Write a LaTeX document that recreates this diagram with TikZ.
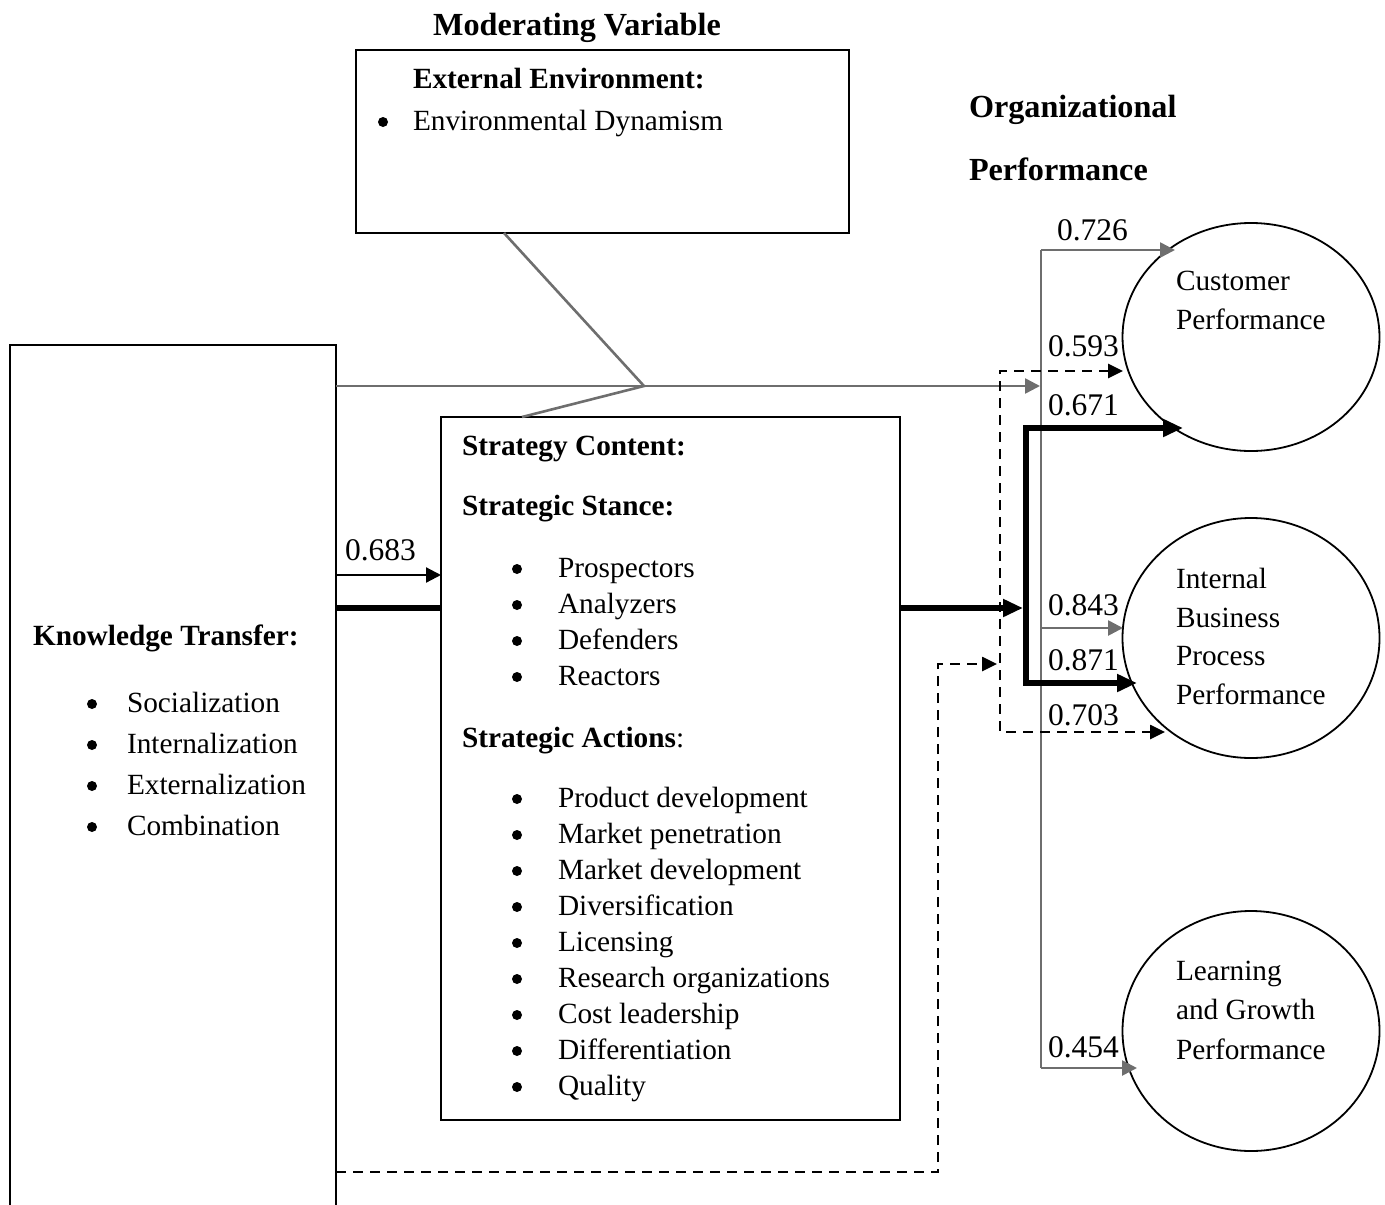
\documentclass[tikz,border=0pt]{standalone}
\usepackage{fontspec}
\setmainfont{Liberation Serif}
\usetikzlibrary{arrows.meta,shapes.geometric,calc}
\definecolor{lgray}{HTML}{6E6E6E}
\begin{document}
\begin{tikzpicture}[x=1pt,y=-1pt,
  every node/.style={inner sep=0pt,outer sep=0pt},
  tb/.style={font=\fontsize{29.3}{35}\selectfont,anchor=base west},
  hb/.style={font=\fontsize{32.2}{38}\selectfont\bfseries,anchor=base west},
  num/.style={font=\fontsize{31.5}{37}\selectfont,anchor=base west},
  bul/.style={circle,fill=black,minimum size=10pt},
  boxn/.style={draw,line width=1.8pt,rectangle,anchor=north west},
  ell/.style={draw,line width=1.8pt,ellipse,minimum width=257pt},
  grayl/.style={draw=lgray,line width=2.6pt},
  gtip/.style={-{Triangle[length=15pt,width=15pt]}},
  thk/.style={line width=6pt,draw=black},
  ttip/.style={-{Triangle[length=20pt,width=17pt]}},
  dsh/.style={line width=2.6pt,dash pattern=on 10pt off 7pt},
  dtip/.style={-{Triangle[length=15pt,width=14pt]}},
  thn/.style={line width=2.2pt,draw=black}
]
\useasboundingbox (0,0) rectangle (1385,1205);

% boxes
\node[boxn,minimum width=493pt,minimum height=183pt] (mod) at (356,50) {};
\node[boxn,minimum width=459pt,minimum height=703pt] (strat) at (441,417) {};
\node[rectangle,anchor=north west,minimum width=326pt,minimum height=860pt] (kt) at (10,345) {};
\draw[line width=1.8pt] (kt.south west) -- (kt.north west) -- (kt.north east) -- (kt.south east);

% ellipses
\node[ell,minimum height=228pt] (e1) at (1251,337) {};
\node[ell,minimum height=240pt] (e2) at (1251,638) {};
\node[ell,minimum height=240pt] (e3) at (1251,1031) {};

% moderating texts
\node[hb,anchor=base] (modt) at (577,35) {Moderating Variable};
\node[tb] (ext) at (413,88) {\bfseries External Environment:};
\node[bul] (b0) at (383,122) {};
\node[tb] (envd) at (413,130) {Environmental Dynamism};

% organizational performance
\node[hb] (op1) at (969,117) {Organizational};
\node[hb] (op2) at (969,180) {Performance};

% strategy content
\node[tb] (sc) at (462,455) {\bfseries Strategy Content:};
\node[tb] (ss) at (462,515) {\bfseries Strategic Stance:};
\foreach \t [count=\i from 0] in {Prospectors,Analyzers,Defenders,Reactors}{
  \node[bul] (sb\i) at (517,569+36*\i) {};
  \node[tb] (st\i) at (558,577+36*\i) {\t};
}
\node[tb] (sa) at (462,747) {\textbf{Strategic Actions}:};
\foreach \t [count=\i from 0] in {Product development,Market penetration,Market development,Diversification,Licensing,Research organizations,Cost leadership,Differentiation,Quality}{
  \node[bul] (ab\i) at (517,799+36*\i) {};
  \node[tb] (at\i) at (558,807+36*\i) {\t};
}

% knowledge transfer
\node[tb] (ktt) at (33,645) {\bfseries Knowledge Transfer:};
\foreach \t [count=\i from 0] in {Socialization,Internalization,Externalization,Combination}{
  \node[bul] (kb\i) at (92,704+41*\i) {};
  \node[tb] (kx\i) at (127,712+41*\i) {\t};
}

% ellipse texts
\node[tb] (c1) at (1176,290) {Customer};
\node[tb] (c2) at (1176,329) {Performance};
\node[tb] (i1) at (1176,588) {Internal};
\node[tb] (i2) at (1176,627) {Business};
\node[tb] (i3) at (1176,665) {Process};
\node[tb] (i4) at (1176,704) {Performance};
\node[tb] (l1) at (1176,980) {Learning};
\node[tb] (l2) at (1176,1019) {and Growth};
\node[tb] (l3) at (1176,1059) {Performance};

% coefficient labels
\node[num] (n683) at (345,560) {0.683};
\node[num] (n726) at (1057,240) {0.726};
\node[num] (n593) at (1048,356) {0.593};
\node[num] (n671) at (1048,415) {0.671};
\node[num] (n843) at (1048,615) {0.843};
\node[num] (n871) at (1048,670) {0.871};
\node[num] (n703) at (1048,725) {0.703};
\node[num] (n454) at (1048,1057) {0.454};

% junction coordinates
\coordinate (jm) at (644,386);
\coordinate (gtop) at (1041,250);
\coordinate (gmid) at (1041,628);
\coordinate (gbot) at (1041,1068);
\coordinate (gin) at (1040,386);
\coordinate (tip726) at (1175,250);
\coordinate (tip843) at (1123,628);
\coordinate (tip454) at (1137,1068);
\coordinate (th1) at (1026,428);
\coordinate (th2) at (1026,683);
\coordinate (tin) at (1023,608);
\coordinate (tip671) at (1183,428);
\coordinate (tip871) at (1137,683);
\coordinate (dq1) at (938,1172);
\coordinate (dq2) at (938,664);
\coordinate (din) at (997,664);
\coordinate (dv1) at (1000,371);
\coordinate (dv2) at (1000,732);
\coordinate (tip593) at (1123,371);
\coordinate (tip703) at (1165,732);
\coordinate (h575) at (0,575);
\coordinate (h608) at (0,608);

% gray connectors
\draw[grayl] ($(mod.south west)+(148,0)$) -- (jm) -- ($(strat.north west)+(81,0)$);
\draw[grayl,gtip] (kt.north east |- jm) -- (gin);
\draw[grayl] (gtop) -- (gbot);
\draw[grayl,gtip] (gtop) -- (tip726);
\draw[grayl,gtip] (gmid) -- (tip843);
\draw[grayl,gtip] (gbot) -- (tip454);

% thin black
\draw[thn,-{Triangle[length=15pt,width=15pt]}] (kt.north east |- h575) -- (strat.north west |- h575);

% thick black
\draw[thk] (kt.north east |- h608) -- (strat.north west |- h608);
\draw[thk,ttip] (strat.north east |- h608) -- (tin);
\draw[thk,{Triangle[length=20pt,width=17pt]}-{Triangle[length=20pt,width=17pt]},line join=miter] (tip671) -- (th1) -- (th2) -- (tip871);

% dashed
\draw[dsh,dtip] (kt.north east |- dq1) -- (dq1) -- (dq2) -- (din);
\draw[dsh,{Triangle[length=15pt,width=14pt]}-{Triangle[length=15pt,width=14pt]}] (tip593) -- (dv1) -- (dv2) -- (tip703);
\end{tikzpicture}
\end{document}
